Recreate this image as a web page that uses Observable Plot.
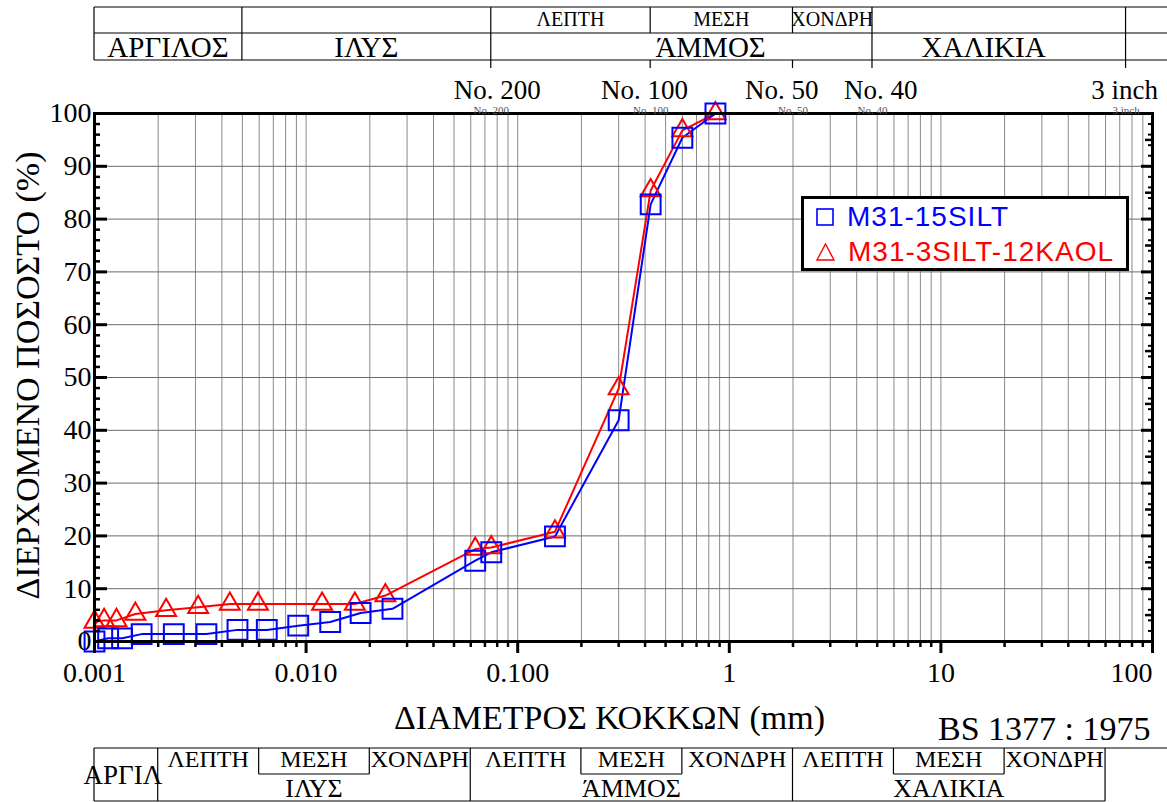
<!DOCTYPE html>
<html>
<head>
<meta charset="utf-8">
<script src="https://cdn.jsdelivr.net/npm/d3@7"></script>
<script src="https://cdn.jsdelivr.net/npm/@observablehq/plot@0.6"></script>
<style>
  body { margin: 0; background: #fff; }
  #wrap { position: relative; width: 1167px; height: 802px; overflow: hidden; background: #fff; }
  #wrap > svg { position: absolute; left: 0; top: 0; }
  #legend { position: absolute; left: 801px; top: 196px; width: 328px; height: 75px; box-sizing: border-box;
            border: 3px solid #000; background: #fff; font-family: "Liberation Sans", Arial, sans-serif;
            font-size: 28px; letter-spacing: 1px; line-height: 35px; padding-left: 12px; white-space: nowrap; }
  #legend svg { vertical-align: 0px; margin-right: 13px; }
</style>
</head>
<body>
<div id="wrap"></div>
<script>
// ---------- data ----------
const blueSize = [0.001, 0.00116, 0.00135, 0.00167, 0.00237, 0.00338, 0.00474, 0.00652, 0.00918, 0.0130, 0.0181, 0.0256, 0.063, 0.075, 0.15, 0.3, 0.425, 0.6, 0.86];
const bluePass = [0, 0.6, 0.6, 1.4, 1.4, 1.4, 2.2, 2.2, 3.0, 3.7, 5.4, 6.2, 15.3, 16.9, 19.9, 41.9, 82.8, 95.4, 100];
const redSize  = [0.001, 0.00111, 0.00127, 0.00156, 0.00218, 0.00309, 0.00436, 0.00592, 0.0119, 0.0170, 0.0237, 0.063, 0.075, 0.15, 0.3, 0.425, 0.6, 0.86];
const redPass  = [3.7, 4.0, 4.0, 5.2, 5.9, 6.5, 7.1, 7.1, 7.1, 7.1, 8.7, 17.5, 17.8, 20.8, 47.9, 85.4, 96.8, 100];
const seriesNames = ["M31-15SILT", "M31-3SILT-12KAOL"];
const seriesColors = ["#0000ff", "#ff0000"];

const xTickValues = [0.001, 0.01, 0.1, 1, 10, 100];
const xTickLabels = ["0.001", "0.010", "0.100", "1", "10", "100"];
const yTickValues = [0, 10, 20, 30, 40, 50, 60, 70, 80, 90, 100];

const sieveSizes   = [0.075, 0.425, 2, 4.75, 75];
const sieveLabels  = ["No. 200", "No. 100", "No. 50", "No. 40", "3 inch"];
const sieveLabelAt = [0.080, 0.397, 1.77, 5.2, 73.8];   // where the large sieve captions sit (mm)

const xTitle = "ΔΙΑΜΕΤΡΟΣ ΚΟΚΚΩΝ (mm)";
const yTitle = "ΔΙΕΡΧΟΜΕΝΟ ΠΟΣΟΣΤΟ (%)";
const standardNote = "BS 1377 : 1975";

// upper classification band (USCS boundaries)
const topSubCells  = [["ΛΕΠΤΗ", 0.075, 0.425], ["ΜΕΣΗ", 0.425, 2], ["ΧΟΝΔΡΗ", 2, 4.75]];
const topMainCells = [["ΑΡΓΙΛΟΣ", 0.001, 0.005], ["ΙΛΥΣ", 0.005, 0.075], ["ΆΜΜΟΣ", 0.075, 4.75, 0.82], ["ΧΑΛΙΚΙΑ", 4.75, 75, 16]];
const topFullDividers = [0.001, 0.005, 0.075, 4.75, 75];
const topSubDividers  = [0.425, 2];

// lower classification band (BS boundaries)
const botSubCells  = [["ΛΕΠΤΗ", 0.002, 0.006], ["ΜΕΣΗ", 0.006, 0.02], ["ΧΟΝΔΡΗ", 0.02, 0.06],
                      ["ΛΕΠΤΗ", 0.06, 0.2], ["ΜΕΣΗ", 0.2, 0.6], ["ΧΟΝΔΡΗ", 0.6, 2],
                      ["ΛΕΠΤΗ", 2, 6], ["ΜΕΣΗ", 6, 20], ["ΧΟΝΔΡΗ", 20, 60]];
const botMainCells = [["ΙΛΥΣ", 0.002, 0.06], ["ΆΜΜΟΣ", 0.06, 2], ["ΧΑΛΙΚΙΑ", 2, 60]];
const botClayCell  = ["ΑΡΓΙΛ", 0.001, 0.002, 0.00137];
const botFullDividers = [0.001, 0.002, 0.06, 2, 60];
const botSubDividers  = [0.006, 0.02, 0.2, 0.6, 6, 20];

// ---------- derived ----------
const blue = blueSize.map((s, i) => ({size: s, pass: bluePass[i]}));
const red  = redSize.map((s, i) => ({size: s, pass: redPass[i]}));
const xGrid = [];
for (let k = -3; k <= 1; k++) for (let n = 1; n <= 9; n++) { const v = +(n * 10 ** k).toPrecision(3); if (v > 0.001) xGrid.push(v); }
const xMinor = xGrid.filter(v => !xTickValues.includes(v));
const yGrid = yTickValues.filter(v => v > 0 && v < 100);
const yMinor = d3.range(2, 100, 2).filter(v => v % 10 !== 0);
const yMid = d3.range(5, 100, 10);
const serif = '"Liberation Serif", "Times New Roman", serif';

// custom mark: classification tables positioned by the x scale
function bands(index, scales, values, dims) {
  const x = scales.x;
  const W = dims.width;
  const g = d3.create("svg:g").attr("font-family", serif).attr("fill", "#000");
  const line = (x1, y1, x2, y2, w = 1.2) => g.append("line").attr("x1", x1).attr("y1", y1).attr("x2", x2).attr("y2", y2)
      .attr("stroke", "#000").attr("stroke-width", w);
  const text = (cx, cy, s, size) => g.append("text").attr("x", cx).attr("y", cy).attr("text-anchor", "middle")
      .attr("dy", "0.34em").attr("font-size", size).text(s);
  const mid = (a, b) => (x(a) + x(b)) / 2;
  // top band rows
  const T0 = 7, T1 = 33, T2 = 60, TT = 68;
  [T0, T1, T2].forEach(yy => line(x(0.001), yy, W, yy));
  topFullDividers.forEach(v => line(x(v), T0, x(v), T2));
  topSubDividers.forEach(v => line(x(v), T0, x(v), T1));
  sieveSizes.forEach(v => line(x(v), T2, x(v), TT));
  topSubCells.forEach(([s, a, b]) => text(mid(a, b), 19, s, 20));
  topMainCells.forEach(([s, a, b, at]) => text(at ? x(at) : mid(a, b), 47, s, 29));
  // bottom band rows
  const B0 = 748, B1 = 774, B2 = 801;
  line(x(0.001), B0, W, B0);
  line(x(0.001), B2, x(60), B2);
  botSubCells.filter(c => c[0] === "ΜΕΣΗ").forEach(([s, a, b]) => line(x(a), B1, x(b), B1));
  botFullDividers.forEach(v => line(x(v), B0, x(v), B2));
  botSubDividers.forEach(v => line(x(v), B0, x(v), B1));
  botSubCells.forEach(([s, a, b]) => text(mid(a, b), 759, s, 24));
  botMainCells.forEach(([s, a, b]) => text(mid(a, b), 788, s, 26));
  text(x(botClayCell[3]), 775, botClayCell[0], 27);
  return g.node();
}

const chart = Plot.plot({
  width: 1167, height: 802,
  marginTop: 113, marginBottom: 161, marginLeft: 94, marginRight: 15,
  x: {type: "log", domain: [0.001, 100]},
  y: {domain: [0, 100]},
  style: {fontFamily: serif, background: "#fff", color: "#000"},
  marks: [
    Plot.ruleX(xGrid, {stroke: "#8a8a8a", strokeWidth: 1}),
    Plot.ruleY(yGrid, {stroke: "#6a6a6a", strokeWidth: 1}),
    Plot.line(red,  {x: "size", y: "pass", stroke: seriesColors[1], strokeWidth: 2}),
    Plot.line(blue, {x: "size", y: "pass", stroke: seriesColors[0], strokeWidth: 2}),
    Plot.dot(red,  {x: "size", y: "pass", symbol: "triangle", r: 7.4, stroke: seriesColors[1], strokeWidth: 2, fill: "none"}),
    Plot.dot(blue, {x: "size", y: "pass", symbol: "square", r: 11.2, stroke: seriesColors[0], strokeWidth: 2, fill: "none"}),
    Plot.frame({stroke: "#000", strokeWidth: 3}),
    // ticks
    Plot.axisX({anchor: "bottom", ticks: xMinor, tickSize: 6, strokeWidth: 2.5, tickFormat: () => "", label: null}),
    Plot.axisX({anchor: "bottom", ticks: xTickValues, tickSize: 12, strokeWidth: 3, tickFormat: () => "", label: null}),
    Plot.axisY({anchor: "left", ticks: yMinor, tickSize: -6, strokeWidth: 2.5, tickFormat: () => "", label: null}),
    Plot.axisY({anchor: "left", ticks: yTickValues, tickSize: -13, strokeWidth: 3, tickFormat: () => "", label: null}),
    Plot.axisY({anchor: "right", ticks: yMinor, tickSize: -5, strokeWidth: 2, tickFormat: () => "", label: null}),
    Plot.axisY({anchor: "right", ticks: yMid, tickSize: -8, strokeWidth: 2.5, tickFormat: () => "", label: null}),
    Plot.axisY({anchor: "right", ticks: yTickValues, tickSize: -12, strokeWidth: 3, tickFormat: () => "", label: null}),
    // tick labels
    Plot.text(yTickValues, {y: d => d, text: d => String(d), frameAnchor: "left", textAnchor: "end", dx: -3, fontSize: 28}),
    Plot.text(xTickValues.slice(0, 5), {x: d => d, text: (d, i) => xTickLabels[i], frameAnchor: "bottom", lineAnchor: "bottom", dy: 40, fontSize: 28}),
    Plot.text(xTickValues.slice(5), {x: d => d, text: (d, i) => xTickLabels[5 + i], frameAnchor: "bottom", lineAnchor: "bottom", textAnchor: "end", dy: 40, fontSize: 28}),
    // sieve labels
    Plot.text(sieveLabelAt, {x: d => d, text: (d, i) => sieveLabels[i], frameAnchor: "top", lineAnchor: "bottom", dy: -15, fontSize: 27}),
    Plot.text(sieveSizes, {x: d => d, text: (d, i) => sieveLabels[i], frameAnchor: "top", lineAnchor: "bottom", dy: 0, fontSize: 11, fill: "#555"}),
    // titles
    Plot.text([xTitle], {text: d => d, frameAnchor: "bottom", lineAnchor: "bottom", dx: -14, dy: 87, fontSize: 34}),
    Plot.text([yTitle], {text: d => d, frameAnchor: "left", textAnchor: "middle", rotate: -90, dx: -66, dy: -2, fontSize: 34}),
    Plot.text([standardNote], {text: d => d, frameAnchor: "bottom-right", lineAnchor: "bottom", textAnchor: "end", dx: -2, dy: 98, fontSize: 34}),
    bands
  ]
});

const wrap = document.getElementById("wrap");
wrap.appendChild(chart);

// legend (HTML overlay inside the plot area)
const legend = document.createElement("div");
legend.id = "legend";
seriesNames.forEach((name, i) => {
  const row = document.createElement("div");
  row.style.color = seriesColors[i];
  const sym = i === 0
    ? `<svg width="18" height="18"><rect x="1" y="1" width="16" height="16" fill="none" stroke="${seriesColors[i]}" stroke-width="1.6"/></svg>`
    : `<svg width="19" height="18"><path d="M9.5 1 L18 17 L1 17 Z" fill="none" stroke="${seriesColors[i]}" stroke-width="1.4"/></svg>`;
  row.innerHTML = sym + name;
  legend.appendChild(row);
});
wrap.appendChild(legend);
</script>
</body>
</html>
